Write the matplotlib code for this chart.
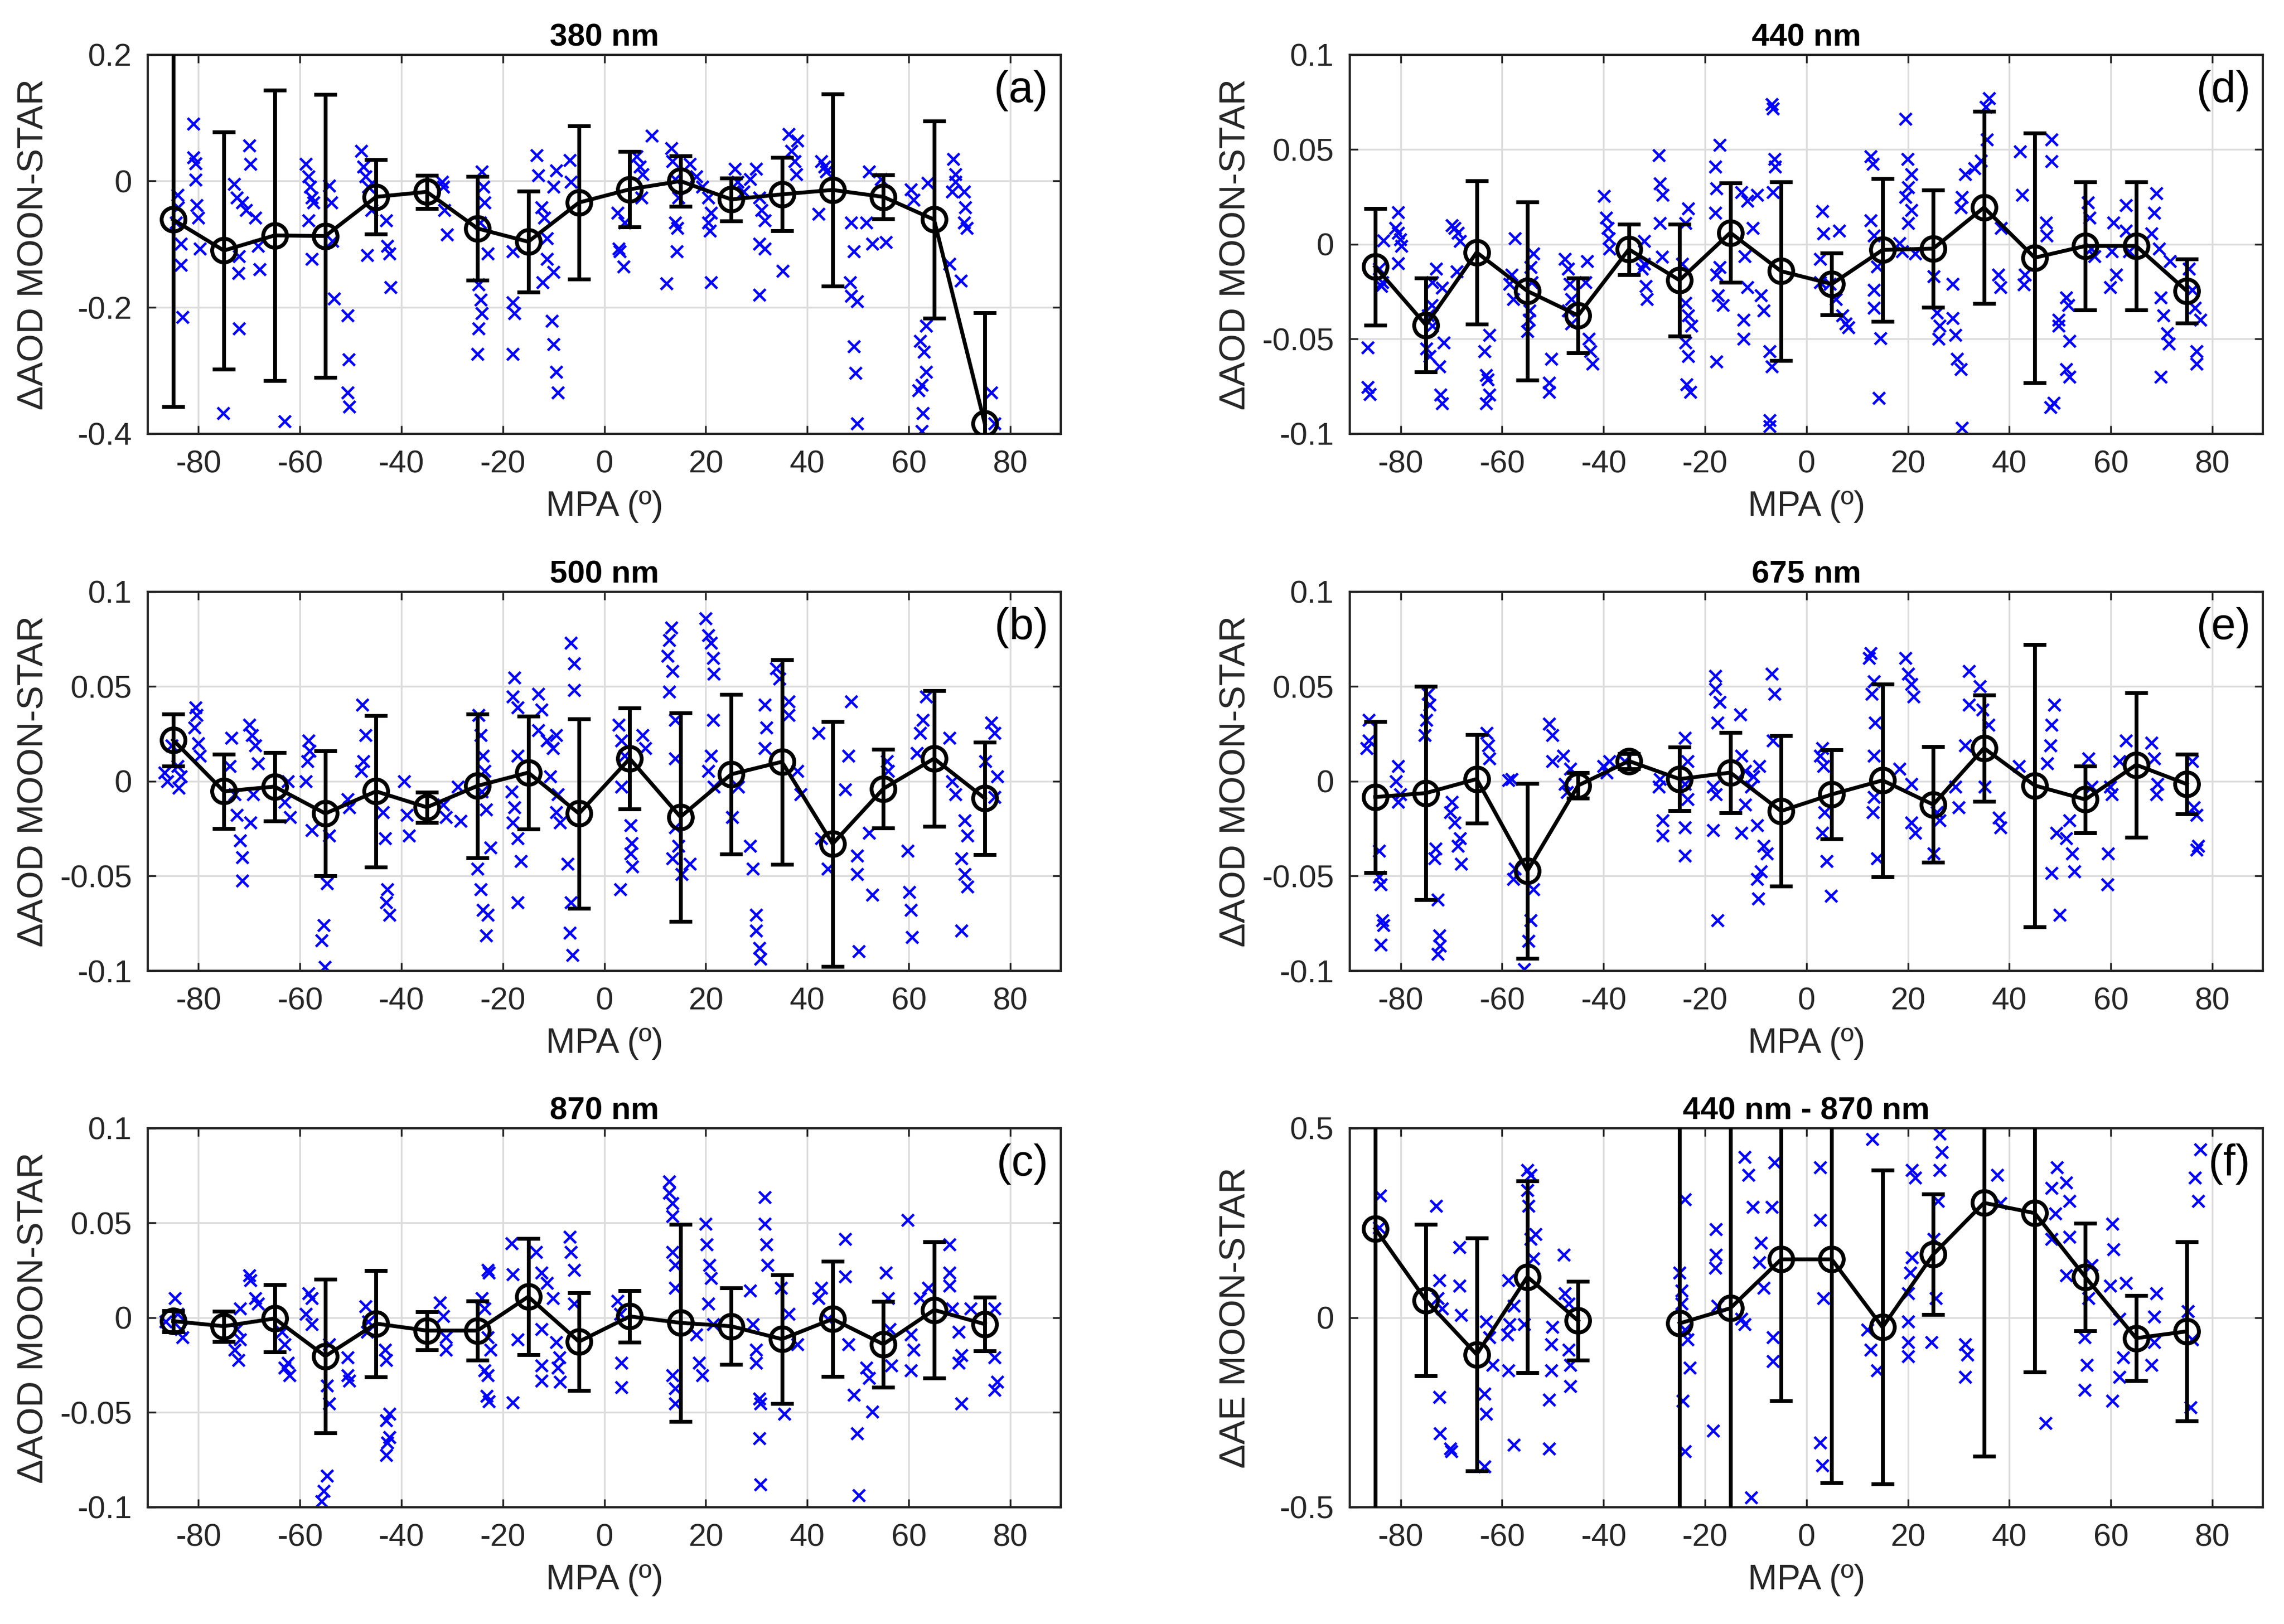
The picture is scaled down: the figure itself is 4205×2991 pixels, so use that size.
import numpy as np
import matplotlib
matplotlib.use('Agg')
import matplotlib.pyplot as plt
from matplotlib.ticker import FuncFormatter

plt.rcParams['font.family'] = ['Liberation Sans', 'DejaVu Sans']
plt.rcParams['axes.unicode_minus'] = False

TXT = '#262626'

# MPA bin centres (deg)
bins = [-85, -75, -65, -55, -45, -35, -25, -15, -5, 5, 15, 25, 35, 45, 55, 65, 75]

# bin means and standard deviations
mean_380 = [-0.061, -0.110, -0.086, -0.087, -0.025, -0.017, -0.075, -0.096, -0.034, -0.013,
            0.000, -0.029, -0.021, -0.014, -0.025, -0.061, -0.384]
std_380 = [0.296, 0.188, 0.230, 0.224, 0.059, 0.026, 0.082, 0.080, 0.121, 0.060,
           0.040, 0.034, 0.058, 0.152, 0.035, 0.156, 0.176]

mean_440 = [-0.0118, -0.0426, -0.0043, -0.0247, -0.0376, -0.0027, -0.0190, 0.0061, -0.0142, -0.0210,
            -0.0030, -0.0023, 0.0194, -0.0071, -0.0009, -0.0009, -0.0247]
std_440 = [0.0308, 0.0249, 0.0378, 0.0471, 0.0197, 0.0133, 0.0295, 0.0261, 0.0471, 0.0163,
           0.0377, 0.0310, 0.0508, 0.0659, 0.0339, 0.0339, 0.0170]

mean_500 = [0.0218, -0.0053, -0.0028, -0.0170, -0.0053, -0.0137, -0.0024, 0.0046, -0.0170, 0.0120,
            -0.0188, 0.0037, 0.0103, -0.0330, -0.0039, 0.0120, -0.0090]
std_500 = [0.0137, 0.0195, 0.0180, 0.0330, 0.0400, 0.0080, 0.0380, 0.0298, 0.0500, 0.0266,
           0.0550, 0.0420, 0.0540, 0.0646, 0.0207, 0.0357, 0.0296]

mean_675 = [-0.0083, -0.0062, 0.0012, -0.0473, -0.0022, 0.0107, 0.0012, 0.0046, -0.0157, -0.0069,
            0.0005, -0.0123, 0.0175, -0.0022, -0.0096, 0.0087, -0.0015]
std_675 = [0.0397, 0.0564, 0.0233, 0.0461, 0.0067, 0.0040, 0.0168, 0.0212, 0.0397, 0.0236,
           0.0508, 0.0305, 0.0281, 0.0745, 0.0175, 0.0381, 0.0158]

mean_870 = [-0.0018, -0.0045, -0.0004, -0.0203, -0.0031, -0.0068, -0.0068, 0.0111, -0.0126, 0.0007,
            -0.0027, -0.0045, -0.0113, -0.0007, -0.0140, 0.0041, -0.0034]
std_870 = [0.0056, 0.0080, 0.0178, 0.0405, 0.0281, 0.0100, 0.0156, 0.0307, 0.0258, 0.0136,
           0.0520, 0.0203, 0.0340, 0.0304, 0.0226, 0.0359, 0.0142]

mean_ae = [0.235, 0.046, -0.097, 0.108, -0.008, np.nan, -0.015, 0.025, 0.154, 0.154,
           -0.025, 0.167, 0.303, 0.276, 0.107, -0.054, -0.036]
std_ae = [0.800, 0.200, 0.307, 0.253, 0.104, np.nan, 0.800, 0.800, 0.374, 0.590,
          0.414, 0.159, 0.668, 0.420, 0.142, 0.112, 0.237]

# individual MOON-STAR differences (MPA, value)
pts_380 = [(-81, 0.091), (-81, 0.037), (-80.6, 0.028), (-80.6, 0.002), (-80.4, -0.038), (-80, -0.058),
           (-79.7, -0.107), (-84.1, -0.022), (-84, -0.042), (-83.5, -0.099), (-83.5, -0.133), (-83.2, -0.215),
           (-84.4, -0.066), (-70, 0.056), (-69.8, 0.027), (-73, -0.005), (-72.4, -0.026), (-71.4, -0.034),
           (-70.6, -0.046), (-68.8, -0.058), (-68.3, -0.103), (-72, -0.119), (-72.1, -0.146), (-68, -0.14),
           (-72, -0.233), (-75.1, -0.367), (-63, -0.38), (-58.9, 0.027), (-58.3, 0.007), (-58, -0.009),
           (-57.7, -0.026), (-57.3, -0.034), (-58.3, -0.062), (-57.7, -0.123), (-54.2, -0.007), (-53.8, -0.034),
           (-53.6, -0.095), (-53.3, -0.186), (-50.6, -0.213), (-50.4, -0.282), (-50.6, -0.335), (-50.3, -0.357),
           (-47.9, 0.048), (-47.5, 0.023), (-47.1, 0.007), (-46.5, -0.009), (-45.9, -0.046), (-43, -0.062),
           (-42.8, -0.103), (-46.8, -0.117), (-42.4, -0.115), (-42.2, -0.168), (-31.8, -0.009), (-31.5, -0.046),
           (-31, -0.085), (-32, -0.001), (-24.2, 0.015), (-23.8, -0.009), (-23.6, -0.034), (-24.5, -0.066),
           (-23, -0.115), (-24.8, -0.164), (-24.4, -0.188), (-24.2, -0.209), (-24.8, -0.233), (-25, -0.274),
           (-18.1, -0.192), (-17.7, -0.209), (-18.1, -0.274), (-18.1, -0.111), (-13.3, 0.041), (-13, 0.009),
           (-9.5, 0.017), (-10, -0.009), (-12.4, -0.042), (-11.8, -0.058), (-11.3, -0.091), (-11.3, -0.123),
           (-10, -0.144), (-12.2, -0.16), (-10.4, -0.221), (-10, -0.258), (-9.5, -0.302), (-9.2, -0.335),
           (-6.8, 0.033), (-6.6, -0.001), (2.6, -0.05), (2.8, -0.107), (3.0, -0.111), (3.8, -0.135),
           (4, -0.066), (6.4, 0.039), (7, 0.023), (7.5, 0.011), (9.3, 0.072), (7.3, -0.026),
           (13.2, 0.052), (13.4, 0.031), (14, 0.003), (14.6, -0.026), (14, -0.066), (14.4, -0.074),
           (14.3, -0.111), (12.2, -0.162), (16.9, 0.027), (18.1, 0.007), (19.3, -0.009), (20.5, -0.026),
           (21, -0.05), (20.5, -0.066), (20.8, -0.079), (21, -0.16), (25.7, 0.019), (26.3, -0.001),
           (27.5, -0.017), (28.7, 0.003), (29.9, 0.019), (30.5, -0.026), (31, -0.046), (31.6, -0.062),
           (30.5, -0.099), (31.6, -0.107), (30.5, -0.18), (36.3, 0.074), (36.9, 0.048), (38.1, 0.064),
           (37.5, 0.031), (37.8, 0.011), (35.2, -0.142), (42.8, 0.031), (43.4, 0.023), (43.7, 0.015),
           (42.2, -0.052), (48.7, -0.066), (49.2, -0.111), (48.4, -0.16), (48.7, -0.182), (49.8, -0.19),
           (49.2, -0.262), (49.5, -0.304), (49.8, -0.384), (52.2, 0.015), (52.8, -0.099), (55.5, -0.097),
           (51.6, -0.066), (54.5, 0.003), (60.4, -0.013), (61, -0.03), (63.7, -0.003), (63.4, -0.229),
           (62.2, -0.253), (63, -0.27), (63.4, -0.302), (62.6, -0.323), (61.9, -0.331), (62.8, -0.367),
           (62.6, -0.396), (68.8, 0.035), (69.2, 0.011), (69.2, -0.001), (68.6, -0.017), (70.9, -0.017),
           (71.1, -0.042), (70.9, -0.066), (71.5, -0.074), (68, -0.131), (70.3, -0.158), (76.3, -0.335),
           (76.9, -0.384)]

pts_440 = [(-86.5, -0.0545), (-86.5, -0.0755), (-86.1, -0.079), (-84.2, -0.013), (-83.6, -0.020), (-83.8, -0.022),
           (-83.4, 0.002), (-80.5, 0.017), (-80.5, 0.006), (-80.1, 0.0025), (-80.5, -0.010), (-81, 0.0085),
           (-79.8, -0.001), (-73, -0.013), (-73.7, -0.02), (-71.8, -0.023), (-73.9, -0.032), (-74.6, -0.0375),
           (-73.7, -0.043), (-74.9, -0.055), (-74.3, -0.059), (-72.4, -0.0645), (-71.5, -0.052), (-72.1, -0.0795),
           (-71.8, -0.084), (-69.9, 0.01), (-69.3, 0.0085), (-68.7, 0.006), (-68.3, 0.0018), (-68.9, -0.0145),
           (-62.5, -0.048), (-63.5, -0.0565), (-63.1, -0.069), (-62.8, -0.0715), (-62.5, -0.0795), (-63.1, -0.084),
           (-57.5, 0.003), (-58.1, -0.016), (-58.5, -0.021), (-57.8, -0.029), (-54.4, -0.012), (-53.8, -0.005),
           (-54.1, -0.02), (-54.6, -0.035), (-54.7, -0.040), (-55, -0.046), (-50.3, -0.0605), (-50.7, -0.073),
           (-50.7, -0.078), (-47.6, -0.0077), (-47, -0.013), (-46.7, -0.021), (-46.3, -0.029), (-47, -0.035),
           (-46.3, -0.042), (-43.2, -0.009), (-43.5, -0.02), (-42.9, -0.05), (-42.6, -0.0565), (-42.2, -0.063),
           (-39.9, 0.0255), (-39.5, 0.014), (-39.2, 0.0085), (-38.9, 0.003), (-38.8, -0.0023), (-32, 0.0018),
           (-32, -0.0105), (-32.4, -0.013), (-31.7, -0.022), (-31.5, -0.029), (-29.1, 0.047), (-28.9, 0.032),
           (-28.3, 0.026), (-28.9, 0.011), (-28.5, -0.0065), (-23.3, 0.019), (-23.9, 0.011), (-24.5, -0.0105),
           (-23.9, -0.031), (-23.3, -0.0375), (-22.7, -0.043), (-23.9, -0.052), (-23.3, -0.059), (-23.6, -0.074),
           (-22.9, -0.078), (-17.1, 0.0525), (-18, 0.041), (-17.7, 0.0295), (-18, 0.0165), (-17.1, -0.012),
           (-17.7, -0.016), (-17.4, -0.027), (-16.5, -0.032), (-17.7, -0.062), (-12.8, 0.0275), (-11.6, 0.023),
           (-10.6, 0.0085), (-12.2, -0.0064), (-11.6, -0.0227), (-9.7, 0.026), (-12.4, -0.040), (-12.4, -0.050),
           (-6.8, 0.074), (-6.6, 0.0715), (-6.3, 0.045), (-6.2, 0.041), (-6.6, 0.0275), (-7.2, -0.0565),
           (-6.8, -0.0645), (-7.2, -0.093), (-7.2, -0.096), (-9, -0.027), (-8.4, -0.035), (3.1, 0.0175),
           (3.4, 0.0058), (6.5, 0.0072), (2.7, -0.0077), (2.7, -0.02), (4.6, -0.021), (5.8, -0.029),
           (7.1, -0.0375), (7.7, -0.042), (8.3, -0.044), (12.7, 0.0465), (13.1, 0.0425), (12.7, 0.0126),
           (13.3, 0.0045), (13.9, -0.0118), (13.3, -0.024), (13.3, -0.0335), (14.6, -0.0497), (14.3, -0.081),
           (19.5, 0.066), (19.9, 0.045), (20.7, 0.037), (20.1, 0.030), (19.5, 0.0248), (20.7, 0.018),
           (20.1, 0.011), (18.3, 0.0004), (18.9, -0.0037), (21.4, -0.005), (25.1, -0.017), (25.7, -0.036),
           (26.3, -0.043), (26, -0.05), (28.8, -0.021), (29.4, -0.048), (29.7, -0.0605), (30.4, -0.066),
           (30.7, -0.097), (28.8, -0.039), (31.3, 0.037), (30.4, 0.0195), (30.7, 0.0248), (33.1, 0.04),
           (34.4, 0.044), (35.6, 0.0553), (36, 0.077), (35.4, 0.0723), (38.4, 0.0085), (37.8, -0.016),
           (38.2, -0.0226), (42.1, 0.049), (42.5, 0.026), (43.1, -0.016), (42.9, -0.0213), (47.2, 0.0113),
           (47.4, 0.0045), (48.3, 0.0553), (48.3, 0.0438), (48.7, -0.0837), (48.1, -0.086), (51.2, -0.028),
           (51.6, -0.032), (49.7, -0.040), (49.7, -0.043), (51.8, -0.051), (51.2, -0.066), (51.8, -0.070),
           (55.5, 0.022), (55.8, 0.014), (56.1, -0.0023), (56.8, -0.0064), (60.5, 0.0113), (60.2, -0.0037),
           (61.1, -0.016), (59.9, -0.0226), (63, 0.0207), (63, 0.0072), (63.6, -0.0037), (69, 0.0268),
           (68.6, 0.0167), (68, 0.0058), (69.5, -0.0023), (69.8, -0.028), (70.4, -0.0375), (71.1, -0.047),
           (71.4, -0.0525), (69.8, -0.070), (71.7, -0.009), (75.4, -0.013), (76, -0.024), (76.6, -0.0335),
           (77.6, -0.040), (76.9, -0.0565), (76.9, -0.063)]

pts_500 = [(-86.7, 0.0046), (-86.2, 0.0), (-84.1, 0.008), (-83.5, 0.0026), (-83.9, -0.0035), (-85.3, 0.0188),
           (-80.6, 0.039), (-80.4, 0.035), (-80.8, 0.0283), (-80, 0.020), (-79.7, 0.0134), (-73.5, 0.0229),
           (-73.8, 0.008), (-72.9, -0.0069), (-72.4, -0.0178), (-71.8, -0.0313), (-71.4, -0.040), (-71.4, -0.0523),
           (-70, 0.0297), (-69.4, 0.0243), (-68.8, 0.0188), (-68.3, 0.0094), (-69.2, -0.0069), (-69.8, -0.0218),
           (-62.4, -0.0001), (-63.0, -0.011), (-62, -0.019), (-58.3, 0.0216), (-58.1, 0.016), (-58.5, 0.0107),
           (-58.9, 0.0), (-57.7, -0.0259), (-55.3, -0.076), (-55.7, -0.084), (-55.1, -0.098), (-54.2, -0.0286),
           (-54.7, -0.054), (-50.6, -0.0096), (-50.3, -0.0137), (-47.7, 0.0405), (-47.1, 0.0243), (-47.5, 0.0107),
           (-47.9, 0.0053), (-43.6, -0.0164), (-43.2, -0.030), (-43, -0.064), (-42.4, -0.0706), (-42.8, -0.057),
           (-39.5, -0.0001), (-38.9, -0.0178), (-38.5, -0.0286), (-31.8, -0.0123), (-31.2, -0.019), (-28.9, -0.0028),
           (-28.3, -0.021), (-24.8, 0.035), (-24.4, 0.0243), (-23.9, 0.0134), (-23.6, 0.0053), (-24.2, -0.0055),
           (-23.3, -0.015), (-22.4, -0.035), (-25, -0.046), (-24.4, -0.057), (-23.9, -0.068), (-23, -0.0706),
           (-23.3, -0.0815), (-17.7, 0.0548), (-18.1, 0.0446), (-17.1, 0.039), (-17.1, 0.0134), (-18.3, -0.0055),
           (-17.7, -0.0137), (-18.1, -0.0218), (-17.1, -0.030), (-16.5, -0.042), (-17.1, -0.0639), (-13, 0.046),
           (-12.4, 0.0378), (-13, 0.027), (-11.3, 0.0216), (-10.1, 0.0175), (-9.5, 0.0243), (-10.7, 0.0026),
           (-9.5, -0.0164), (-8.7, -0.0218), (-9.2, -0.0069), (-6.6, 0.073), (-6, 0.0622), (-6, 0.048),
           (-7.2, -0.0435), (-6.6, -0.0639), (-6.8, -0.080), (-6.3, -0.0917), (2.8, 0.0297), (3.4, 0.0216),
           (4, 0.0134), (3.4, -0.0028), (3.1, -0.057), (5.2, -0.0232), (5.4, -0.0327), (5.2, -0.038),
           (5.5, -0.0449), (7.5, 0.0243), (8.1, 0.0175), (12.8, 0.0744), (13.2, 0.081), (12.5, 0.0663),
           (13.4, 0.0582), (12.8, 0.0473), (14, 0.0324), (14, 0.0121), (14, -0.0245), (14.6, -0.034),
           (13.4, -0.0408), (15.2, -0.049), (16.9, -0.0435), (19.9, 0.086), (20.5, 0.0772), (21, 0.0731),
           (21.4, 0.065), (21.6, 0.0568), (21.4, 0.0324), (21, 0.0134), (20.5, 0.0053), (21.6, -0.0028),
           (25.2, -0.019), (26.4, -0.0028), (28.7, -0.034), (29.3, -0.046), (29.9, -0.0706), (29.9, -0.0788),
           (30.5, -0.088), (30.8, -0.0937), (31.6, 0.0405), (31.9, 0.0283), (31.6, 0.0175), (33.9, 0.0595),
           (34.5, 0.054), (36.3, 0.042), (36.3, 0.035), (38.1, 0.0053), (38.7, -0.0069), (42.2, 0.0256),
           (42.8, -0.030), (44, -0.046), (48.7, 0.042), (48.1, 0.0134), (47.5, -0.0042), (49.8, -0.0394),
           (49.8, -0.049), (50.1, -0.0896), (52.8, -0.0598), (52.2, -0.0272), (55.7, 0.0107), (55.9, 0.0053),
           (59.8, -0.0367), (60.1, -0.0584), (60.4, -0.068), (60.6, -0.0821), (62.2, 0.0256), (62.8, 0.0324),
           (63.4, 0.0446), (61.6, 0.0148), (68, 0.0229), (68.6, -0.0001), (69.2, -0.0069), (71, -0.0205),
           (71.6, -0.0286), (70.4, -0.0408), (71, -0.049), (71.6, -0.0557), (70.4, -0.0788), (76.3, 0.031),
           (76.9, 0.0256), (75.1, 0.0107), (77.5, 0.0026), (76.9, -0.0083)]

pts_675 = [(-86.3, 0.0324), (-86.3, 0.0216), (-86.7, 0.0175), (-84.2, -0.0367), (-84.2, -0.0503), (-83.9, -0.0544),
           (-83.6, -0.0734), (-83.4, -0.076), (-83.9, -0.0862), (-80.5, 0.008), (-80.9, 0.0), (-80.1, -0.0069),
           (-80.5, -0.011), (-74.6, 0.046), (-74.3, 0.0405), (-74.9, 0.0324), (-75.2, 0.0243), (-73.1, -0.0354),
           (-73.3, -0.0408), (-72.7, -0.0625), (-72.4, -0.0815), (-72.2, -0.0869), (-72.7, -0.091), (-69.9, -0.011),
           (-70.2, -0.0164), (-69.3, -0.0218), (-68.3, -0.030), (-68.7, -0.034), (-68.1, -0.0435), (-63, 0.0256),
           (-62.7, 0.0188), (-62.5, 0.0121), (-58.7, 0.0005), (-58.1, 0.0012), (-57.5, -0.0462), (-57.8, -0.0517),
           (-53.8, -0.057), (-54.4, -0.0734), (-54.8, -0.0842), (-55.6, -0.099), (-50.7, 0.0304), (-50.1, 0.0243),
           (-50.1, 0.0107), (-47.9, 0.0134), (-46.6, 0.0066), (-47.6, -0.0015), (-47.2, -0.0056), (-40, 0.008),
           (-39.4, 0.0046), (-38.8, 0.0107), (-35.8, 0.0107), (-28.9, 0.0012), (-29.1, -0.0028), (-28.3, -0.0205),
           (-28.3, -0.0286), (-24, 0.0229), (-23.4, 0.0107), (-24, -0.0015), (-23.4, -0.0096), (-24, -0.0245),
           (-24, -0.0394), (-18, 0.0555), (-18, 0.0487), (-17.1, 0.0419), (-17.5, 0.031), (-18.4, -0.0028),
           (-17.8, -0.0069), (-18.4, -0.0259), (-17.5, -0.0734), (-13, 0.0351), (-12.8, 0.0134), (-12.1, 0.0053),
           (-10.9, -0.0028), (-10.5, 0.0026), (-12.1, -0.0123), (-12.8, -0.0272), (-9.3, 0.008), (-9.7, -0.0232),
           (-8.4, -0.034), (-7.8, -0.0381), (-9, -0.0476), (-9.7, -0.0517), (-9.5, -0.0618), (-6.8, 0.0568),
           (-6.3, 0.046), (-6.6, 0.0216), (2.7, 0.0134), (3.3, 0.008), (3.1, 0.0175), (3.6, -0.0164),
           (3.1, -0.0272), (4, -0.0422), (4.8, -0.0605), (12.7, 0.0677), (12.3, 0.065), (13.3, 0.0527),
           (12.9, 0.046), (13.5, 0.031), (13.3, 0.0134), (13.3, -0.0083), (13.1, -0.0164), (14, -0.0408),
           (19.5, 0.065), (20.1, 0.0568), (20.7, 0.0514), (21.1, 0.0446), (18.3, 0.0066), (20.7, -0.0015),
           (20.7, -0.0218), (21.4, -0.0272), (25.7, -0.0164), (26.3, -0.0205), (25.1, -0.0381), (29.4, -0.0028),
           (30, -0.0137), (32, 0.0582), (32, 0.0405), (34.2, 0.05), (34.7, 0.0378), (35.9, 0.0297),
           (31.3, 0.0188), (35.1, -0.0028), (37.9, -0.0191), (38.2, -0.0245), (41.9, 0.008), (47.5, 0.0094),
           (48.8, 0.0405), (48.3, 0.0297), (48.1, 0.0188), (48.3, -0.0483), (49.9, -0.0706), (49.3, -0.0272),
           (51.8, -0.0205), (52.4, -0.0381), (52.8, -0.0476), (51.2, -0.030), (55.6, 0.0121), (56.2, -0.0028),
           (59.9, -0.0028), (60.2, -0.0069), (59.5, -0.0381), (59.3, -0.0544), (63, 0.0216), (61.7, 0.0107),
           (68, 0.0202), (68.6, 0.0121), (69.2, -0.0015), (69, -0.0069), (76, 0.0107), (76.4, -0.0137),
           (76.9, -0.0178), (77.2, -0.034), (76.9, -0.036)]

pts_870 = [(-84.7, 0.0102), (-84.1, 0.002), (-83.5, -0.0061), (-83.2, -0.0102), (-86.5, -0.002), (-70, 0.0224),
           (-69.8, 0.0197), (-68.8, 0.0102), (-68.3, 0.0075), (-71.8, 0.0047), (-72.4, -0.0061), (-71.8, -0.0115),
           (-72.9, -0.017), (-72.1, -0.0224), (-63.6, -0.0075), (-63, -0.0142), (-62.4, -0.0237), (-62.1, -0.0305),
           (-63, -0.0264), (-58.3, 0.0129), (-57.7, 0.0102), (-58.9, 0.002), (-57.7, -0.0034), (-54.2, -0.0142),
           (-54.7, -0.0359), (-54.2, -0.0454), (-54.7, -0.0834), (-55.3, -0.0915), (-55.7, -0.097), (-50.6, -0.021),
           (-50.6, -0.0305), (-50.3, -0.0332), (-47.1, 0.0061), (-46.5, -0.002), (-46.8, -0.0075), (-43.2, -0.017),
           (-43, -0.0224), (-42.4, -0.0508), (-43, -0.0542), (-42.4, -0.063), (-42.8, -0.0658), (-43, -0.0725),
           (-32.4, 0.0081), (-31.8, 0.0007), (-31.2, -0.0102), (-31.2, -0.017), (-24.2, 0.0102), (-23.6, 0.0047),
           (-23, 0.0251), (-22.8, 0.0237), (-23, -0.0102), (-22.4, -0.017), (-23.6, -0.0278), (-23, -0.0305),
           (-23.2, -0.0414), (-22.8, -0.0441), (-18.3, 0.0393), (-18.1, 0.023), (-17.1, -0.0115), (-18.1, -0.0447),
           (-13.4, 0.0346), (-12.4, 0.0237), (-11.3, 0.0183), (-10.1, 0.0102), (-12.4, -0.0061), (-9.5, -0.0129),
           (-8.9, -0.021), (-9.2, -0.0264), (-8.7, -0.0339), (-12.4, -0.0332), (-12.4, -0.0251), (-6.8, 0.0427),
           (-6.6, 0.0346), (-6, 0.0251), (-6, 0.0075), (2.6, 0.0088), (3.1, 0.002), (3.4, -0.0237),
           (3.4, -0.0366), (12.8, 0.0719), (12.8, 0.0658), (13.4, 0.0603), (13.4, 0.0536), (13.4, 0.0346),
           (14, 0.0278), (14, 0.0156), (13.4, -0.0305), (14, -0.0373), (14, -0.0454), (19.9, 0.0495),
           (20.2, 0.0386), (20.7, 0.0278), (21, 0.021), (20.5, 0.0075), (21.4, -0.0034), (18.1, -0.0088),
           (18.7, -0.0237), (19.3, -0.0305), (28.7, 0.0142), (29.3, -0.0034), (29.9, -0.017), (29.9, -0.0237),
           (30.5, -0.0427), (30.8, -0.0454), (30.5, -0.0637), (30.8, -0.0881), (31.6, 0.0637), (31.6, 0.0495),
           (31.9, 0.0386), (32.2, 0.0278), (34.8, 0.0156), (36.3, 0.002), (38.1, -0.0142), (35.5, -0.0508),
           (42.8, 0.0156), (42.2, 0.0102), (44, -0.0007), (48.1, -0.0142), (47.5, 0.0414), (47.5, 0.0217),
           (49.2, -0.0407), (49.8, -0.061), (50.1, -0.0936), (52.8, -0.0495), (51.6, -0.0264), (52.2, -0.0319),
           (55.5, 0.0237), (55.9, 0.0102), (56.3, -0.0061), (56.6, -0.0251), (59.8, 0.0515), (60.4, -0.0088),
           (60.4, -0.0278), (61, -0.017), (62.2, 0.0102), (63.9, 0.0156), (68, 0.0386), (68, 0.0237),
           (68, 0.017), (68.6, 0.0047), (69.8, -0.0075), (70.4, -0.0197), (69.8, -0.0237), (70.4, -0.0454),
           (72.2, 0.0047), (76.9, 0.0047), (76.9, -0.021), (77.5, -0.0339), (76.9, -0.038)]

pts_ae = [(-84, 0.322), (-84.2, 0.237), (-73, 0.295), (-72.4, 0.098), (-72.7, 0.051), (-71.8, 0.024),
          (-72.4, -0.21), (-72.2, -0.305), (-70.2, -0.346), (-70, -0.353), (-68.4, 0.186), (-68.4, 0.085),
          (-68.1, 0.007), (-63.1, -0.01), (-62.5, -0.051), (-61.9, -0.125), (-63.5, -0.2), (-63.1, -0.254),
          (-63.5, -0.393), (-58.7, 0.098), (-57.7, 0.031), (-58.5, -0.017), (-59, -0.044), (-58.7, -0.139),
          (-57.7, -0.336), (-55, 0.39), (-54.4, 0.376), (-55, 0.336), (-54.8, 0.295), (-54.4, 0.207),
          (-53.4, 0.22), (-53.8, 0.156), (-55.6, -0.017), (-47.8, 0.166), (-47.6, 0.064), (-46.9, 0.037),
          (-50.1, -0.024), (-50.3, -0.071), (-50.7, -0.217), (-50.7, -0.346), (-46.9, -0.085), (-46.6, -0.125),
          (-46.6, -0.18), (-50.3, -0.139), (-24, 0.312), (-25, 0.119), (-24.6, 0.071), (-24.6, 0.037),
          (-24, -0.031), (-23.4, -0.058), (-23, -0.132), (-24.4, -0.22), (-24, -0.353), (-17.8, 0.234),
          (-17.8, 0.166), (-18, 0.132), (-17.5, 0.031), (-18.4, -0.298), (-12.2, 0.424), (-11.4, 0.376),
          (-10.6, 0.292), (-12.8, -0.003), (-12.2, -0.017), (-10.9, -0.475), (-6.8, 0.292), (-6.3, 0.41),
          (-9, 0.197), (-9.3, 0.146), (-8.4, 0.078), (-6.6, -0.051), (-6.6, -0.115), (2.7, 0.397),
          (2.7, 0.258), (3.3, 0.051), (2.7, -0.329), (3.1, -0.39), (13, 0.471), (12, -0.031),
          (12.7, -0.085), (13.9, -0.139), (20.8, 0.39), (21.4, 0.37), (20.8, 0.159), (20.5, 0.119),
          (20.1, 0.064), (20.1, -0.01), (20.1, -0.064), (20.1, -0.102), (26.3, 0.485), (26.7, 0.437),
          (26.3, 0.39), (25.9, 0.308), (25.1, 0.207), (25.5, 0.051), (24.7, -0.064), (31.3, -0.071),
          (31.7, -0.098), (31.3, -0.156), (37.6, 0.376), (38.2, 0.302), (49.4, 0.397), (48.3, 0.342),
          (51.2, 0.356), (51.8, 0.308), (49.1, 0.275), (51.8, 0.214), (48.3, 0.207), (51.2, 0.112),
          (47.1, -0.278), (56.2, 0.139), (55.6, 0.051), (54.9, -0.051), (55.3, -0.125), (54.9, -0.19),
          (60.3, 0.247), (60.5, 0.18), (59.9, 0.085), (63, 0.092), (61.7, -0.003), (62.4, -0.105),
          (61.7, -0.156), (60.3, -0.22), (69, 0.064), (68.6, 0.003), (68.6, -0.064), (68, -0.125),
          (75.2, 0.017), (76.1, -0.058), (75.7, -0.237), (76.6, 0.37), (77.2, 0.308), (77.6, 0.444)]

titles = ['380 nm', '500 nm', '870 nm', '440 nm', '675 nm', '440 nm - 870 nm']
letters = ['(a)', '(b)', '(c)', '(d)', '(e)', '(f)']
ylabels = ['ΔAOD MOON-STAR'] * 5 + ['ΔAE MOON-STAR']
ylims = [(-0.4, 0.2), (-0.1, 0.1), (-0.1, 0.1), (-0.1, 0.1), (-0.1, 0.1), (-0.5, 0.5)]
yticks = [[-0.4, -0.2, 0, 0.2], [-0.1, -0.05, 0, 0.05, 0.1], [-0.1, -0.05, 0, 0.05, 0.1],
          [-0.1, -0.05, 0, 0.05, 0.1], [-0.1, -0.05, 0, 0.05, 0.1], [-0.5, 0, 0.5]]
xticks = [-80, -60, -40, -20, 0, 20, 40, 60, 80]

panels = [
    (pts_380, mean_380, std_380),
    (pts_500, mean_500, std_500),
    (pts_870, mean_870, std_870),
    (pts_440, mean_440, std_440),
    (pts_675, mean_675, std_675),
    (pts_ae, mean_ae, std_ae),
]

fig = plt.figure(figsize=(4205 / 300, 2991 / 300), dpi=300)
lefts = [0.0647, 0.591]
bottoms = [0.7329, 0.4022, 0.0719]
w, h = 0.3998, 0.2334

for i, (pts, mu, sd) in enumerate(panels):
    col, row = i // 3, i % 3
    ax = fig.add_axes([lefts[col], bottoms[row], w, h])
    px, py = np.array(pts).T
    ax.plot(px, py, 'x', color='#0000ff', ms=5.5, mew=1.1, zorder=2)
    ax.errorbar(bins, mu, yerr=sd, fmt='-o', color='k', mfc='none', ms=10.5, mew=1.7,
                lw=1.7, elinewidth=1.7, capsize=5, capthick=1.7, zorder=3)

    ax.set_xlim(-90, 90)
    ax.set_ylim(*ylims[i])
    ax.set_xticks(xticks)
    ax.set_yticks(yticks[i])
    fmt = FuncFormatter(lambda v, p: '%g' % v)
    ax.xaxis.set_major_formatter(fmt)
    ax.yaxis.set_major_formatter(fmt)
    ax.grid(True, color='#dcdcdc', lw=0.8)
    ax.set_axisbelow(True)
    ax.tick_params(direction='in', top=True, right=True, length=3.6, width=0.8,
                   labelsize=14, colors=TXT, pad=7)
    for s in ax.spines.values():
        s.set_linewidth(1.0)
        s.set_color(TXT)

    ax.set_title(titles[i], fontsize=14, fontweight='bold', color='k', pad=4)
    ax.set_xlabel('MPA (º)', fontsize=15.5, color=TXT, labelpad=5)
    ax.set_ylabel(ylabels[i], fontsize=16, color=TXT)
    ax.yaxis.set_label_coords(-0.106, 0.5)
    ax.text(0.986, 0.905, letters[i], transform=ax.transAxes, ha='right', va='center',
            fontsize=19.5, color='k')

fig.savefig('out.png', dpi=300)
